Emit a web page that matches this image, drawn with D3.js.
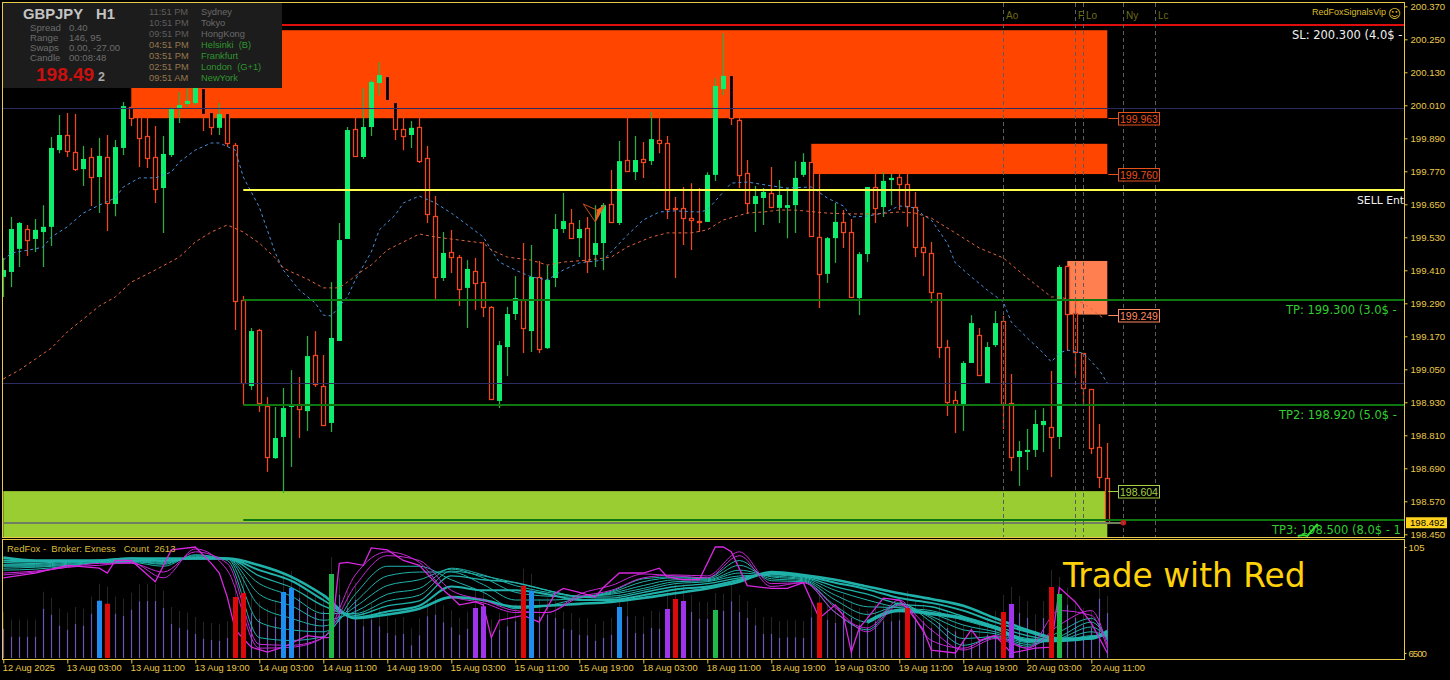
<!DOCTYPE html>
<html>
<head>
<meta charset="utf-8">
<title>GBPJPY H1</title>
<script src="https://cdn.jsdelivr.net/npm/d3@7"></script>
<style>
html,body{margin:0;padding:0;background:#000;overflow:hidden}
svg{display:block;font-family:"Liberation Sans",Arial,sans-serif}
</style>
</head>
<body>
<svg id="c" width="1450" height="680"></svg>
<script>
// ---------- candles ----------
const opens=[199.386,199.404,199.488,199.560,199.524,199.549,199.568,199.847,199.902,199.840,199.778,199.822,199.749,199.822,199.651,199.855,200.004,199.968,199.898,199.822,199.709,199.829,199.997,200.015,200.018,200.073,199.986,199.928,199.982,199.866,199.302,198.989,199.193,198.916,198.727,198.804,198.913,198.924,198.898,199.102,198.989,198.855,199.153,199.524,199.924,199.822,199.931,200.091,200.117,200.022,199.924,199.902,199.931,199.818,199.607,199.382,199.477,199.458,199.346,199.407,199.367,199.277,198.935,199.131,199.251,199.302,199.189,199.386,199.127,199.382,199.560,199.582,199.527,199.564,199.466,199.509,199.651,199.582,199.811,199.767,199.815,199.807,199.884,199.873,199.637,199.637,199.600,199.589,199.586,199.757,200.069,200.120,199.957,199.764,199.651,199.673,199.691,199.637,199.637,199.647,199.757,199.804,199.531,199.397,199.527,199.586,199.549,199.309,199.469,199.713,199.640,199.738,199.749,199.724,199.640,199.495,199.473,199.327,199.131,198.938,198.924,199.073,199.175,199.000,199.138,199.226,198.927,198.731,198.749,198.757,198.847,198.840,198.804,199.426,199.255,199.109,198.978,198.767,198.655];
const highs=[199.455,199.604,199.586,199.575,199.597,199.647,199.895,199.975,199.982,199.978,199.862,199.855,199.891,199.902,199.884,200.022,200.007,200.004,199.964,199.935,199.898,200.004,200.058,200.073,200.102,200.084,200.004,200.018,200.004,199.873,199.317,199.200,199.197,198.949,198.913,198.982,199.047,199.022,199.171,199.189,199.102,199.367,199.582,199.931,199.975,200.073,200.102,200.167,200.117,200.029,200.000,199.953,200.000,199.862,199.680,199.549,199.557,199.466,199.447,199.455,199.513,199.280,199.153,199.277,199.389,199.509,199.502,199.444,199.429,199.615,199.691,199.633,199.593,199.604,199.647,199.655,199.775,199.880,200.000,199.898,199.877,199.986,199.964,199.898,199.677,199.713,199.727,199.709,199.767,200.109,200.273,200.120,199.964,199.811,199.717,199.709,199.786,199.738,199.709,199.807,199.836,199.804,199.764,199.531,199.655,199.629,199.597,199.477,199.713,199.760,199.767,199.760,199.760,199.760,199.695,199.604,199.513,199.327,199.157,198.971,199.080,199.247,199.200,199.149,199.262,199.244,199.033,198.789,198.833,198.902,198.909,199.044,199.429,199.429,199.302,199.109,198.978,198.851,198.782];
const lows=[199.313,199.349,199.422,199.462,199.477,199.422,199.498,199.836,199.822,199.771,199.717,199.644,199.618,199.553,199.607,199.829,199.935,199.786,199.782,199.655,199.546,199.822,199.946,200.004,200.011,199.917,199.902,199.902,199.858,199.193,198.920,198.975,198.895,198.677,198.724,198.600,198.695,198.800,198.826,198.986,198.847,198.822,199.153,199.524,199.826,199.815,199.898,200.047,200.029,199.884,199.847,199.855,199.800,199.582,199.306,199.371,199.400,199.280,199.200,199.266,199.240,198.942,198.909,199.025,199.229,199.109,199.113,199.109,199.124,199.349,199.546,199.524,199.458,199.400,199.422,199.411,199.586,199.575,199.771,199.738,199.746,199.793,199.836,199.597,199.382,199.502,199.484,199.549,199.586,199.735,200.047,199.938,199.709,199.615,199.549,199.575,199.637,199.582,199.527,199.546,199.749,199.531,199.273,199.364,199.437,199.491,199.313,199.247,199.440,199.582,199.604,199.647,199.629,199.568,199.458,199.389,199.291,199.091,198.880,198.818,198.826,199.073,199.029,199.000,199.131,198.833,198.680,198.626,198.684,198.731,198.749,198.658,198.760,199.117,199.025,198.924,198.742,198.618,198.492];
const closes=[199.411,199.560,199.582,199.520,199.557,199.568,199.855,199.902,199.844,199.778,199.815,199.749,199.826,199.655,199.858,200.007,199.964,199.891,199.818,199.706,199.833,199.997,200.011,200.026,200.073,199.978,199.931,199.978,199.873,199.298,199.000,199.189,198.927,198.731,198.800,198.909,198.920,198.906,199.098,198.997,198.847,199.164,199.520,199.920,199.826,199.931,200.095,200.120,200.029,199.924,199.898,199.928,199.807,199.615,199.386,199.473,199.458,199.342,199.415,199.364,199.277,198.942,199.138,199.251,199.309,199.200,199.386,199.124,199.375,199.560,199.589,199.527,199.560,199.444,199.509,199.647,199.586,199.807,199.771,199.811,199.804,199.887,199.873,199.633,199.633,199.600,199.593,199.586,199.757,200.080,200.117,199.964,199.757,199.655,199.680,199.695,199.640,199.684,199.647,199.746,199.804,199.535,199.397,199.527,199.586,199.549,199.313,199.469,199.713,199.637,199.735,199.746,199.724,199.644,199.495,199.477,199.331,199.131,198.931,198.924,199.073,199.218,199.029,199.131,199.218,198.924,198.731,198.753,198.757,198.851,198.862,198.804,199.422,199.251,199.113,198.982,198.764,198.658,198.492];

// ---------- moving averages ----------
const blueBars=[0,1,4,5,6,8,10,12,14,15,17,19,21,22,24,26,27,29,30,32,33,34,35,37,39,40,41,43,44,46,47,49,50,52,54,56,58,60,61,62,64,66,68,70,72,75,76,78,80,82,84,87,88,90,91,93,96,98,101,103,105,106,108,110,112,114,115,116,118,119,121,123,125,126,128,130,131,132,133,135,137,138];
const blueValues=[199.447,199.473,199.488,199.495,199.531,199.568,199.618,199.647,199.673,199.713,199.746,199.746,199.767,199.804,199.847,199.873,199.873,199.847,199.749,199.640,199.557,199.473,199.411,199.338,199.291,199.247,199.244,199.313,199.375,199.477,199.557,199.611,199.655,199.680,199.655,199.618,199.575,199.531,199.484,199.440,199.411,199.386,199.375,199.411,199.437,199.447,199.477,199.538,199.593,199.622,199.626,199.622,199.629,199.695,199.727,199.731,199.717,199.709,199.713,199.673,199.644,199.604,199.607,199.618,199.644,199.637,199.611,199.593,199.509,199.437,199.386,199.338,199.295,199.222,199.164,199.109,199.077,199.109,199.120,199.109,199.047,199.000];
const orangeBars=[0,2,4,6,8,10,12,14,16,19,22,24,26,28,30,32,34,35,36,38,40,42,43,45,46,48,50,52,54,57,60,61,63,66,68,70,73,76,78,81,83,86,88,90,93,95,97,99,103,106,109,112,114,116,119,122,125,128,131,132,135,137.5];
const orangeValues=[199.015,199.047,199.087,199.127,199.186,199.233,199.280,199.313,199.367,199.411,199.458,199.513,199.549,199.575,199.549,199.509,199.455,199.418,199.404,199.378,199.346,199.346,199.367,199.411,199.429,199.484,199.513,199.542,199.531,199.520,199.509,199.484,199.458,199.447,199.429,199.440,199.447,199.458,199.495,199.531,199.546,199.546,199.557,199.593,199.618,199.622,199.629,199.629,199.618,199.615,199.615,199.622,199.618,199.600,199.546,199.491,199.455,199.382,199.313,199.313,199.291,199.236];

// ---------- zones and levels ----------
const zoneStart=[16,101,133,0];
const zoneEnd=[138,138,138,138];
const zoneHigh=[200.283,199.870,199.444,198.607];
const zoneLow=[199.963,199.760,199.249,198.430];
const zoneColors=["#FF4500","#FF4500","#FF7F50","#9ACD32"];
const zoneLabels=["199.963","199.760","199.249","198.604"];
const zoneLabelPrices=[199.963,199.760,199.249,198.607];

const levelPrices=[200.300,199.700,199.300,198.920,198.500];
const levelStart=[0,30,30,30,30];
const levelColors=["#e00d0d","#ffff4d","#0f770f","#0f770f","#0f770f"];
const levelTexts=["SL: 200.300 (4.0$ -","SELL Ent","TP: 199.300 (3.0$ -","TP2: 198.920 (5.0$ -","TP3: 198.500 (8.0$ - 1"];
const levelTextPrices=[200.265,199.665,199.265,198.885,198.465];
const levelTextColors=["#f0f0f0","#f0f0f0","#32cd32","#32cd32","#32cd32"];
const levelTextX=[1292,1357,1286,1279,1272];
const levelTextSizes=[11.5,10.8,11.5,11.5,11.5];
const gridPrices=[200.000,199.000];
const bidPrice=198.492;

// ---------- sessions ----------
const sessionBars=[125,134,135,140,144];
const sessionNames=["Ao","F","Lo","Ny","Lc"];

// ---------- axes ----------
const priceTicks=[200.37,200.25,200.13,200.01,199.89,199.77,199.65,199.53,199.41,199.29,199.17,199.05,198.93,198.81,198.69,198.57,198.45];
const timeBars=[0,8,16,24,32,40,48,56,64,72,80,88,96,104,112,120,128,136];
const timeLabels=["12 Aug 2025","13 Aug 03:00","13 Aug 11:00","13 Aug 19:00","14 Aug 03:00","14 Aug 11:00","14 Aug 19:00","15 Aug 03:00","15 Aug 11:00","15 Aug 19:00","18 Aug 03:00","18 Aug 11:00","18 Aug 19:00","19 Aug 03:00","19 Aug 11:00","19 Aug 19:00","20 Aug 03:00","20 Aug 11:00"];

// ---------- info panel ----------
const statNames=["Spread","Range","Swaps","Candle"];
const statValues=["0.40","146, 95","0.00, -27.00","00:08:48"];
const sessionTimes=["11:51 PM","10:51 PM","09:51 PM","04:51 PM","03:51 PM","02:51 PM","09:51 AM"];
const sessionCities=["Sydney","Tokyo","HongKong","Helsinki  (B)","Frankfurt","London  (G+1)","NewYork"];

// ---------- volume sub-window ----------
const volumes=[293,213,213,213,213,493,433,323,283,340,323,443,573,543,443,423,483,567,570,570,503,340,300,283,240,193,180,173,200,610,650,450,393,327,410,660,700,600,500,450,467,840,633,500,583,317,383,317,250,227,240,127,227,417,433,357,307,233,293,500,517,217,283,317,367,723,673,417,433,400,293,280,233,227,173,200,233,510,417,250,243,300,293,490,590,570,460,393,390,480,473,567,460,400,327,240,240,200,207,207,200,407,553,383,350,467,400,333,300,367,367,367,377,500,400,367,300,350,300,267,167,133,167,233,300,460,540,450,400,267,400,710,640,533,400,333,300,593,450];
const redBars=[13,29,30,65,84,102,113,125,131];
const blueVolBars=[12,35,36,66,77];
const greenBars=[41,89,132];
const purpleBars=[59,60,83,85,126];

// ---------- ribbon sub-window (fast to slow) ----------
const ribbonBars=[0,4,8,12,16,20,24,28,32,36,40,44,48,52,56,60,64,68,72,76,80,84,88,92,96,100,104,108,112,116,120,124,128,132,136,138];
const fastBars=[0,4,8,12,13,14,16,19,21,24,26,27,28,29,31,33,35,38,40,41,42,43,45,46,48,50,52,54,56,57,59,60,61,62,65,67,69,70,72,74,75,77,80,82,83,85,87,89,90,91,93,96,98,100,102,104,105,106,107,108,110,112,113,115,116,119,121,122,124,126,129,131,132,134,136,138];
const fastLine=[73,78,86,83,78,91,91,69,102,105,88,78,53,19,1,-4,1,13,11,11,88,89,86,104,102,91,86,68,53,45,48,45,11,29,34,27,57,62,58,53,63,78,78,83,74,71,71,105,105,100,65,62,62,68,31,45,34,-4,21,31,52,50,41,19,-2,-5,19,8,13,-5,0,1,63,48,26,-5];
const magentaA=[76,79,84,86,89,73,103,81,0,1,11,76,100,89,54,47,37,37,56,65,77,75,73,96,64,68,37,21,50,8,0,13,0,39,34,0];
const magentaB=[78,80,84,88,88,79,100,88,4,3,11,65,96,91,60,50,39,37,53,60,73,76,75,100,67,68,42,17,45,19,-2,10,0,24,39,3];
const tealA=[81,82,85,89,89,85,97,91,11,8,12,56,85,85,71,58,41,44,52,59,72,74,73,91,70,69,37,19,47,27,3,11,2,17,31,8];
const tealB=[83,84,86,89,90,87,96,93,27,19,17,48,75,79,79,66,50,50,52,58,69,73,72,86,72,70,44,27,46,31,10,12,4,12,27,10];
const tealC=[85,85,87,89,90,88,95,93,44,31,23,43,65,71,82,73,58,54,53,57,65,71,71,81,74,71,50,35,44,33,19,15,6,10,22,11];
const tealD=[86,86,88,90,91,89,94,93,56,44,29,38,56,62,83,76,65,58,54,56,62,69,70,78,75,72,55,43,42,36,24,17,8,9,17,12];
const tealE=[87,87,89,90,91,90,94,93,67,54,36,36,49,55,80,75,68,60,54,54,60,67,69,75,76,73,60,50,42,39,29,20,10,8,13,13];
const tealF=[89,88,90,90,91,91,93,93,75,63,44,34,44,49,75,71,68,60,53,52,58,64,67,73,77,74,64,56,46,43,33,23,13,8,11,15];
const tealG=[91,90,90,91,93,91,93,93,81,70,50,32,38,44,64,60,60,56,50,50,55,61,64,71,78,75,68,61,52,47,39,27,17,9,10,17];
const tealH=[94,91,91,91,93,93,93,93,86,74,55,31,35,41,53,50,43,44,46,48,52,57,62,69,79,76,71,64,57,51,44,31,19,10,10,18];
const tealLowBars=[108,112,116,120,124,128,132,136,138];
const tealLow=[27,39,36,31,21,8,8,11,15];

// ---------- small annotation marks ----------
const arrowBars=[72.5,74,75.2,74.2];
const arrowPrices=[199.651,199.586,199.647,199.629];
const tickMarkBars=[161.8,162.5,163,164.3];
const tickMarkPrices=[198.444,198.447,198.444,198.488];

// ---------- scales ----------
const GOLD="#e8c94a";
const x=d3.scaleLinear().domain([0,138]).range([3.3,1107.3]);
const y=d3.scaleLinear().domain([198.45,200.37]).range([534.3,6.3]);
const yOsc=d3.scaleLinear().domain([-5,105]).range([653,547]);
const yVol=d3.scaleLinear().domain([0,1170]).range([658,541]);
const px=i=>Math.floor(x(i))+0.5;

const svg=d3.select("#c");
const defs=svg.append("defs");
defs.append("clipPath").attr("id","main").append("rect").attr("x",3).attr("y",3).attr("width",1401).attr("height",534.5);
defs.append("clipPath").attr("id","sub").append("rect").attr("x",3).attr("y",541).attr("width",1401).attr("height",118);

const main=svg.append("g").attr("clip-path","url(#main)");
const sub=svg.append("g").attr("clip-path","url(#sub)");

// zones
main.selectAll("rect.zone").data(zoneHigh).join("rect").attr("class","zone")
  .attr("x",(d,i)=>x(zoneStart[i]))
  .attr("y",d=>y(d))
  .attr("width",(d,i)=>x(zoneEnd[i])-x(zoneStart[i]))
  .attr("height",(d,i)=>y(zoneLow[i])-y(d))
  .attr("fill",(d,i)=>zoneColors[i]);

// candles
const RED="#f0481c", WICK_GREEN="#28b048";
const cg=main.append("g");
opens.forEach((o,i)=>{
  const c=closes[i],up=c>=o;
  const cx=px(i);
  cg.append("line").attr("x1",cx).attr("x2",cx).attr("y1",y(highs[i])).attr("y2",y(lows[i]))
    .attr("stroke",up?WICK_GREEN:RED).attr("stroke-width",1.25);
  const t=y(Math.max(o,c)),b=y(Math.min(o,c));
  if(up){
    cg.append("rect").attr("x",cx-2.5).attr("y",t).attr("width",5).attr("height",Math.max(b-t,1.5)).attr("fill","#0cee6c");
  }else{
    cg.append("rect").attr("x",cx-2).attr("y",Math.round(t)+.5).attr("width",4).attr("height",Math.max(Math.round(b-t),1))
      .attr("fill","#000").attr("stroke",RED).attr("stroke-width",1.25);
  }
});

// moving averages
const maLine=d3.line().x(d=>x(d[0])).y(d=>y(d[1]));
main.append("path").attr("d",maLine(blueBars.map((b,i)=>[b,blueValues[i]])))
  .attr("fill","none").attr("stroke","#4a90dc").attr("stroke-dasharray","3,3");
main.append("path").attr("d",maLine(orangeBars.map((b,i)=>[b,orangeValues[i]])))
  .attr("fill","none").attr("stroke","#e0653c").attr("stroke-dasharray","3,3");

// grid levels
gridPrices.forEach(p=>{
  main.append("line").attr("x1",3).attr("x2",1404).attr("y1",Math.round(y(p))+.5).attr("y2",Math.round(y(p))+.5)
    .attr("stroke","#2c2c62");
});

// bid line
main.append("line").attr("x1",3).attr("x2",x(140)).attr("y1",Math.round(y(bidPrice))).attr("y2",Math.round(y(bidPrice))).attr("stroke","#6f7f60").attr("stroke-width",2);

// trade levels
levelPrices.forEach((p,i)=>{
  main.append("line").attr("x1",x(levelStart[i])).attr("x2",1404).attr("y1",Math.floor(y(p))).attr("y2",Math.floor(y(p)))
    .attr("stroke",levelColors[i]).attr("stroke-width",2);
});
main.append("circle").attr("cx",x(140)).attr("cy",y(bidPrice)).attr("r",2.8).attr("fill","#e01010");

// session verticals
sessionBars.forEach((b,i)=>{
  main.append("line").attr("x1",px(b)).attr("x2",px(b)).attr("y1",3).attr("y2",537)
    .attr("stroke","#5c5c5c").attr("stroke-dasharray","4,3");
  main.append("text").attr("x",px(b)+2.5).attr("y",19).text(sessionNames[i])
    .attr("fill","#6d6d18").attr("font-size",10);
});

// sell arrow
main.append("path").attr("d",d3.line().x((d)=>x(d[0])).y(d=>y(d[1]))(arrowBars.map((b,i)=>[b,arrowPrices[i]]))+"Z")
  .attr("fill","none").attr("stroke","#c8501c").attr("stroke-width",1);
main.append("path").attr("d",d3.line().x((d)=>x(d[0])).y(d=>y(d[1]))(arrowBars.slice(1).map((b,i)=>[b,arrowPrices[i+1]]))+"Z")
  .attr("fill","#e8641e");

// zone labels
zoneLabels.forEach((t,i)=>{
  const ly=Math.round(y(zoneLabelPrices[i]));
  const col=i<2?"#e8501c":i===2?"#ff8a60":"#a5d040";
  main.append("line").attr("x1",x(138)+1).attr("x2",1119).attr("y1",ly+.5).attr("y2",ly+.5).attr("stroke",col);
  main.append("rect").attr("x",1118.5).attr("y",ly-5.5).attr("width",41).attr("height",12.5).attr("fill","#000").attr("stroke",col);
  main.append("text").attr("x",1120).attr("y",ly+4.5).text(t).attr("fill",col).attr("font-size",10.5);
});

// level texts
levelTexts.forEach((t,i)=>{
  main.append("text").attr("x",levelTextX[i]).attr("y",y(levelTextPrices[i])+4)
    .text(t).attr("fill",levelTextColors[i]).attr("font-size",levelTextSizes[i])
    .attr("font-family","'DejaVu Sans',sans-serif");
});
main.append("path").attr("d",d3.line().x(d=>x(d[0])).y(d=>y(d[1]))(tickMarkBars.map((b,i)=>[b,tickMarkPrices[i]])))
  .attr("stroke","#32e032").attr("stroke-width",2).attr("fill","none");

// signature
main.append("text").attr("x",1312).attr("y",15).text("RedFoxSignalsVip").attr("fill","#dcbc2c").attr("font-size",9.5)
  .attr("textLength",74).attr("lengthAdjust","spacingAndGlyphs");
main.append("text").attr("x",1388).attr("y",17.5).text("\u263A").attr("fill","#dcbc2c").attr("font-size",12.5)
  .attr("font-family","'DejaVu Sans',sans-serif");

// --- sub window ---
const highlight=new Map();
redBars.forEach(b=>highlight.set(b,"#dc0a0a"));
blueVolBars.forEach(b=>highlight.set(b,"#1e8cf0"));
greenBars.forEach(b=>highlight.set(b,"#1fb84a"));
purpleBars.forEach(b=>highlight.set(b,"#a034ec"));
sub.selectAll("line.tail").data(volumes).join("line").attr("class","tail")
  .attr("x1",(d,i)=>px(i)).attr("x2",(d,i)=>px(i)).attr("y1",d=>yVol(d)).attr("y2",d=>yVol(d)-17)
  .attr("stroke","#252525");
sub.selectAll("line.vol").data(volumes).join("line").attr("class","vol")
  .attr("x1",(d,i)=>px(i)).attr("x2",(d,i)=>px(i)).attr("y1",d=>yVol(d)).attr("y2",yVol(0))
  .attr("stroke","#6c58b0").attr("stroke-width",1.2);

// ribbon
const ribLine=d3.line().x(d=>x(d[0])).y(d=>yOsc(d[1])).curve(d3.curveMonotoneX);
const ribbon=(vals,col,w)=>sub.append("path").attr("d",ribLine(ribbonBars.map((b,i)=>[b,vals[i]])))
  .attr("fill","none").attr("stroke",col).attr("stroke-width",w);
[[tealA,1],[tealB,1],[tealC,1],[tealD,1],[tealE,1],[tealF,1.3],[tealG,2],[tealH,2.6]].forEach(r=>ribbon(r[0],"#20b2aa",r[1]));
sub.append("path").attr("d",ribLine(tealLowBars.map((b,i)=>[b,tealLow[i]])))
  .attr("fill","none").attr("stroke","#20b2aa").attr("stroke-width",3.5);
ribbon(magentaA,"#c828d8",1);
ribbon(magentaB,"#c828d8",1);
sub.append("path").attr("d",d3.line().x(d=>x(d[0])).y(d=>yOsc(d[1]))(fastBars.map((b,i)=>[b,fastLine[i]])))
  .attr("fill","none").attr("stroke","#d828e0").attr("stroke-width",1.3);

// thick highlighted volume bars on top
sub.selectAll("rect.hv").data(volumes.map((v,i)=>[i,v]).filter(d=>highlight.has(d[0]))).join("rect").attr("class","hv")
  .attr("x",d=>px(d[0])-2.5).attr("y",d=>yVol(d[1])).attr("width",5).attr("height",d=>yVol(0)-yVol(d[1]))
  .attr("fill",d=>highlight.get(d[0]));

sub.append("text").attr("x",7).attr("y",551.5).text("RedFox -  Broker: Exness   Count  2613")
  .attr("fill","#d8bc3c").attr("font-size",9.5).style("white-space","pre");
svg.append("text").attr("x",1063).attr("y",587).text("Trade with Red")
  .attr("fill","#ffd20a").attr("font-size",32.8).attr("font-family","'DejaVu Sans',sans-serif");

// frames
svg.append("rect").attr("x",2.5).attr("y",2.5).attr("width",1402).attr("height",535).attr("fill","none").attr("stroke",GOLD);
svg.append("rect").attr("x",2.5).attr("y",539.5).attr("width",1402).attr("height",120).attr("fill","none").attr("stroke",GOLD);

// price axis
const styleAxis=(g,fs)=>{
  g.select(".domain").remove();
  g.selectAll(".tick line").attr("stroke",GOLD);
  g.selectAll(".tick text").attr("fill",GOLD).attr("font-size",fs).attr("font-family","'Liberation Sans',sans-serif");
};
svg.append("g").attr("transform","translate(1404.5,0)")
  .call(d3.axisRight(y).tickValues(priceTicks).tickFormat(d3.format(".3f")).tickSize(3).tickPadding(3))
  .call(styleAxis,9.6);

// current price tag
svg.append("rect").attr("x",1406).attr("y",y(bidPrice)-5.5).attr("width",41).attr("height",11).attr("fill","#ffd21e");
svg.append("text").attr("x",1410).attr("y",y(bidPrice)+3.5).text("198.492").attr("fill","#000").attr("font-size",9.6);

// time axis
const xAxis=svg.append("g").attr("transform","translate(0,659.5)")
  .call(d3.axisBottom(x).tickValues(timeBars).tickFormat((d,i)=>timeLabels[i]).tickSize(4).tickPadding(1))
  .call(styleAxis,9.3);
xAxis.selectAll(".tick text").attr("text-anchor","start").attr("dx",-1);

// sub axis
const subAxis=svg.append("g").attr("transform","translate(1404.5,0)")
  .call(d3.axisRight(yOsc).tickValues([105,-5]).tickFormat((d)=>d===105?"105":"6500").tickSize(2).tickPadding(2))
  .call(styleAxis,9.6);
subAxis.selectAll(".tick text").style("letter-spacing",d=>d===105?"0":"-1px");

// info panel
const p=svg.append("g");
p.append("rect").attr("x",3).attr("y",3).attr("width",279).attr("height",85).attr("fill","#1c1c1c");
p.append("text").attr("x",23).attr("y",19).text("GBPJPY").attr("fill","#c4c4c4").attr("font-size",14.8).attr("font-weight","bold");
p.append("text").attr("x",96).attr("y",19).text("H1").attr("fill","#c4c4c4").attr("font-size",14.8).attr("font-weight","bold");
statNames.forEach((s,i)=>{
  p.append("text").attr("x",30).attr("y",31+i*10).text(s).attr("fill","#6c6c6c").attr("font-size",9.6);
  p.append("text").attr("x",69).attr("y",31+i*10).text(statValues[i]).attr("fill","#6c6c6c").attr("font-size",9.6);
});
p.append("text").attr("x",36).attr("y",81).text("198.49").attr("fill","#cc1010").attr("font-size",19).attr("font-weight","bold");
p.append("text").attr("x",98).attr("y",81).text("2").attr("fill","#a8a8a8").attr("font-size",12.5).attr("font-weight","bold");
sessionTimes.forEach((s,i)=>{
  const active=i>=3;
  p.append("text").attr("x",149).attr("y",15.3+i*11).text(s).attr("fill",active?"#96784e":"#5e5e5e").attr("font-size",9.3);
  p.append("text").attr("x",201).attr("y",15.3+i*11).text(sessionCities[i]).attr("fill",active?"#2e962e":"#6a6a6a").attr("font-size",9.3).style("white-space","pre");
});
</script>
</body>
</html>
